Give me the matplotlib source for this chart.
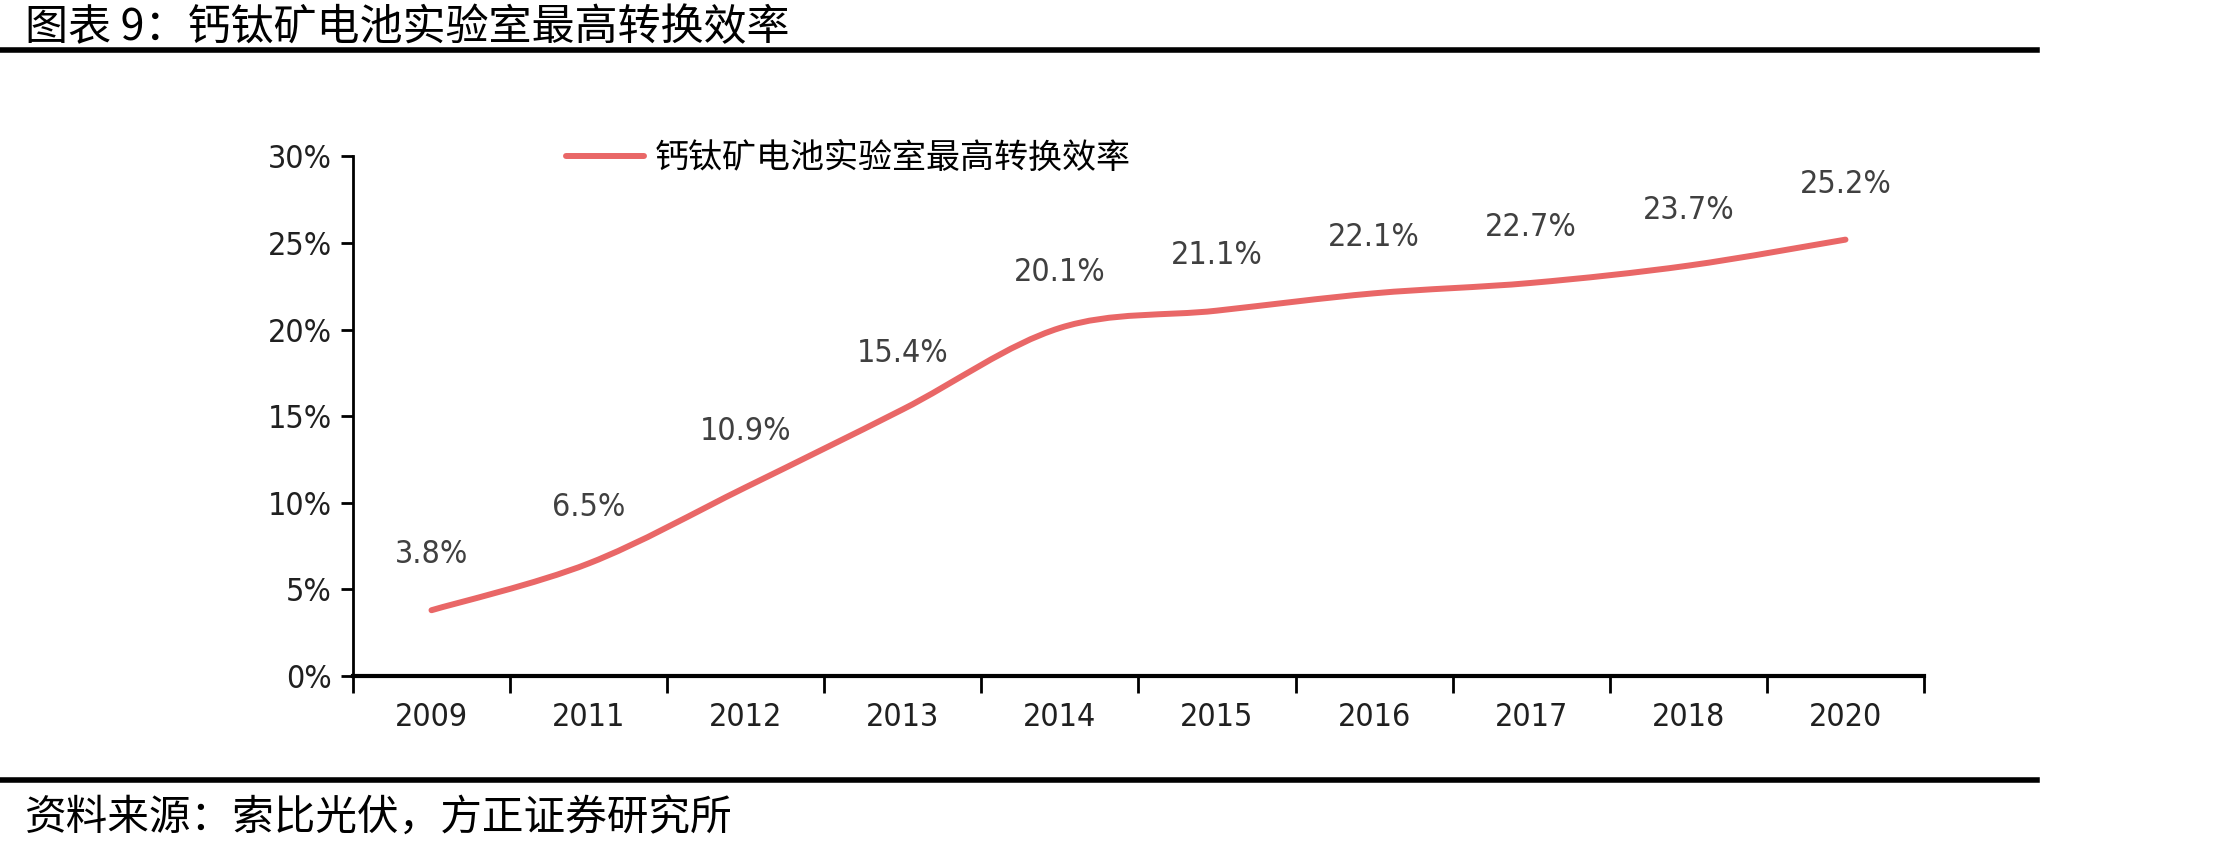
import matplotlib
matplotlib.use("Agg")
import matplotlib.pyplot as plt
from matplotlib.path import Path
from matplotlib.patches import PathPatch
from matplotlib.lines import Line2D
import numpy as np

# data
years = ["2009", "2011", "2012", "2013", "2014", "2015", "2016", "2017", "2018", "2020"]
efficiency = [3.8, 6.5, 10.9, 15.4, 20.1, 21.1, 22.1, 22.7, 23.7, 25.2]
series_name = "钙钛矿电池实验室最高转换效率"
title = "图表 9：钙钛矿电池实验室最高转换效率"
source = "资料来源：索比光伏，方正证券研究所"

line_color = "#E96767"
num_font = dict(family=["DejaVu Sans"], stretch="condensed")
cjk_font = ["Noto Sans CJK SC", "DejaVu Sans"]

fig = plt.figure(figsize=(22.31, 8.51), dpi=100)
ax = fig.add_axes([0.1582, 0.2056, 0.8624 - 0.1582, 0.8161 - 0.2056])

# smoothed line (Catmull-Rom style bezier through the data points)
x = np.arange(len(years), dtype=float)
y = np.array(efficiency)
verts = [(x[0], y[0])]
codes = [Path.MOVETO]
n = len(x)
for i in range(n - 1):
    p0 = np.array([x[max(i - 1, 0)], y[max(i - 1, 0)]])
    p1 = np.array([x[i], y[i]])
    p2 = np.array([x[i + 1], y[i + 1]])
    p3 = np.array([x[min(i + 2, n - 1)], y[min(i + 2, n - 1)]])
    c1 = p1 + (p2 - p0) / 6
    c2 = p2 - (p3 - p1) / 6
    verts += [tuple(c1), tuple(c2), tuple(p2)]
    codes += [Path.CURVE4] * 3
ax.add_patch(PathPatch(Path(verts, codes), facecolor="none", edgecolor=line_color,
                       lw=4.3, capstyle="round", joinstyle="round"))

for xi, yi in zip(x, y):
    ax.annotate(f"{yi:.1f}%", (xi, yi), xytext=(0, 40), textcoords="offset points",
                ha="center", va="center", fontsize=23, color="#404040", **num_font)

ax.set_xlim(-0.5, len(years) - 0.5)
ax.set_ylim(0, 30)
ax.set_yticks(np.arange(0, 31, 5))
ax.set_yticklabels([f"{v}%" for v in range(0, 31, 5)], fontsize=23, color="#202020", **num_font)
ax.set_xticks(x)
ax.set_xticklabels(years, fontsize=23, color="#202020", **num_font)
ax.set_xticks(np.arange(-0.5, len(years), 1), minor=True)
ax.tick_params(axis="x", which="major", length=0, pad=19)
ax.tick_params(axis="x", which="minor", length=12, width=2, direction="out")
ax.tick_params(axis="y", length=9, width=2, pad=6)

for s in ["top", "right"]:
    ax.spines[s].set_visible(False)
ax.spines["left"].set_linewidth(2)
ax.spines["bottom"].set_linewidth(3)

handle = Line2D([], [], color=line_color, lw=4.3, solid_capstyle="round")
fig.legend([handle], [series_name], loc="center left", bbox_to_anchor=(0.2537, 0.8143),
           frameon=False, borderpad=0, borderaxespad=0, handlelength=2.3,
           handletextpad=0.3, prop={"family": cjk_font, "size": 24.5})

# header and footer
fig.text(0.011, 0.967, title, family=cjk_font, fontsize=31, va="center", ha="left", color="black")
fig.add_artist(Line2D([0, 0.913], [0.941, 0.941], color="black", lw=4, transform=fig.transFigure))
fig.add_artist(Line2D([0, 0.913], [0.0835, 0.0835], color="black", lw=4, transform=fig.transFigure))
fig.text(0.011, 0.039, source, family=cjk_font, fontsize=30, style="italic", va="center", ha="left",
         color="black")

fig.savefig("out.png", dpi=100)
